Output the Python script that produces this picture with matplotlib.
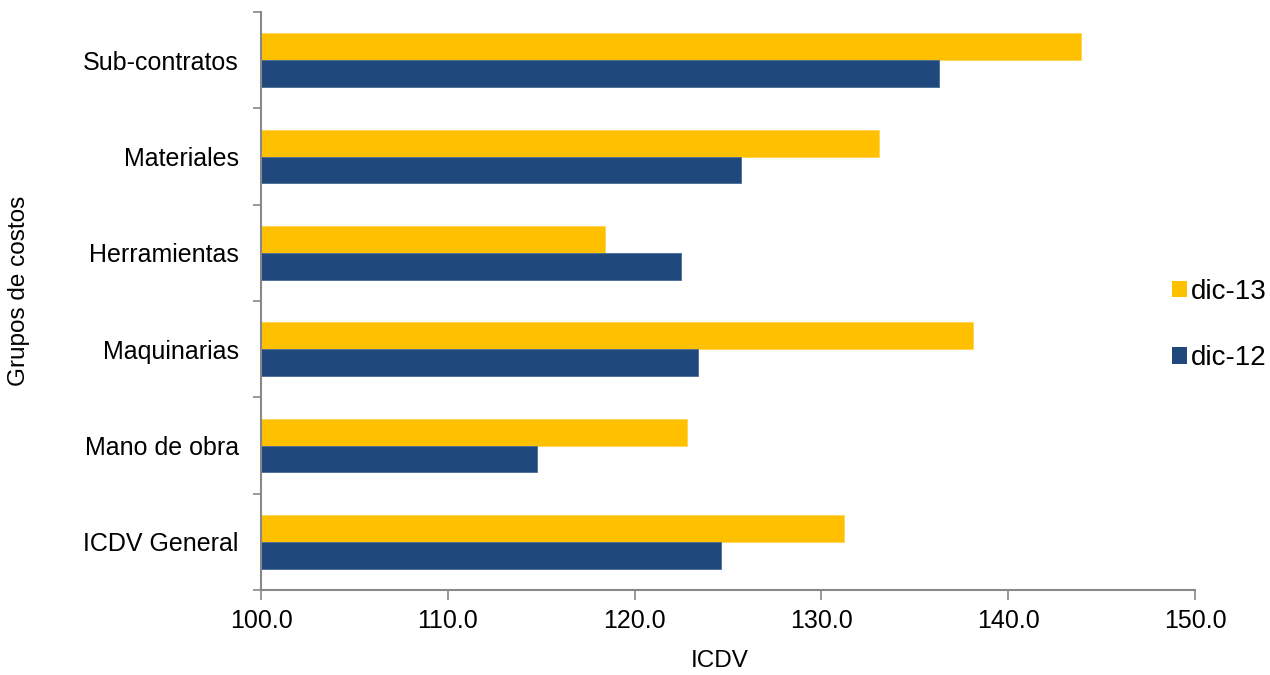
import numpy as np
import matplotlib
matplotlib.use("Agg")
import matplotlib.pyplot as plt
from matplotlib.patches import Patch

plt.rcParams['font.family'] = ['Liberation Sans', 'DejaVu Sans']

categories = ["ICDV General", "Mano de obra", "Maquinarias", "Herramientas", "Materiales", "Sub-contratos"]
dic13 = [131.2, 122.8, 138.1, 118.4, 133.1, 143.9]
dic12 = [124.6, 114.8, 123.4, 122.5, 125.7, 136.3]
series_names = ["dic-13", "dic-12"]
xticks = [100, 110, 120, 130, 140, 150]

YELLOW = "#FFC000"
BLUE = "#1F497D"
GRAY = "#888888"

fig = plt.figure(figsize=(12.7, 6.75), dpi=100)
ax = fig.add_axes([261 / 1270, 1 - 590 / 675, 934 / 1270, 578 / 675])

y = np.arange(len(categories))
h = 0.28
base = 100.0
ax.barh(y + h / 2, np.array(dic13) - base, left=base, height=h, color=YELLOW, edgecolor="#FFD54F", lw=0.6)
ax.barh(y - h / 2, np.array(dic12) - base, left=base, height=h, color=BLUE, edgecolor="#4A6B96", lw=0.6)

ax.set_xlim(100, 150)
ax.set_ylim(-0.5, len(categories) - 0.5)

# category labels at centers, tick marks at boundaries
ax.set_yticks(y)
ax.set_yticklabels(categories, fontsize=18)
ax.tick_params(axis="y", which="major", length=0, pad=16)
ax.set_yticks(np.arange(-0.5, len(categories)), minor=True)
ax.tick_params(axis="y", which="minor", length=6, color=GRAY, width=1.2, direction="out")

ax.set_xticks(xticks)
ax.set_xticklabels([f"{v:.1f}" for v in xticks], fontsize=18)
ax.tick_params(axis="x", length=7, color=GRAY, width=1.2, direction="out", pad=7)

for s in ("top", "right"):
    ax.spines[s].set_visible(False)
for s in ("left", "bottom"):
    ax.spines[s].set_color(GRAY)
    ax.spines[s].set_linewidth(1.5)

fig.text(720 / 1270, 1 - 661 / 675, "ICDV", fontsize=17.5, ha="center", va="center")
fig.text(19 / 1270, 1 - 291 / 675, "Grupos de costos", rotation=90, fontsize=17.5,
         ha="center", va="center")

handles = [Patch(facecolor=YELLOW, edgecolor="none"), Patch(facecolor=BLUE, edgecolor="none")]
fig.legend(handles, series_names, loc="center left", bbox_to_anchor=(1172 / 1270, 1 - 325 / 675),
           frameon=False, fontsize=20, handlelength=0.55, handleheight=0.55,
           handletextpad=0.12, labelspacing=1.45, borderpad=0, borderaxespad=0)

fig.savefig("out.png", dpi=100)
